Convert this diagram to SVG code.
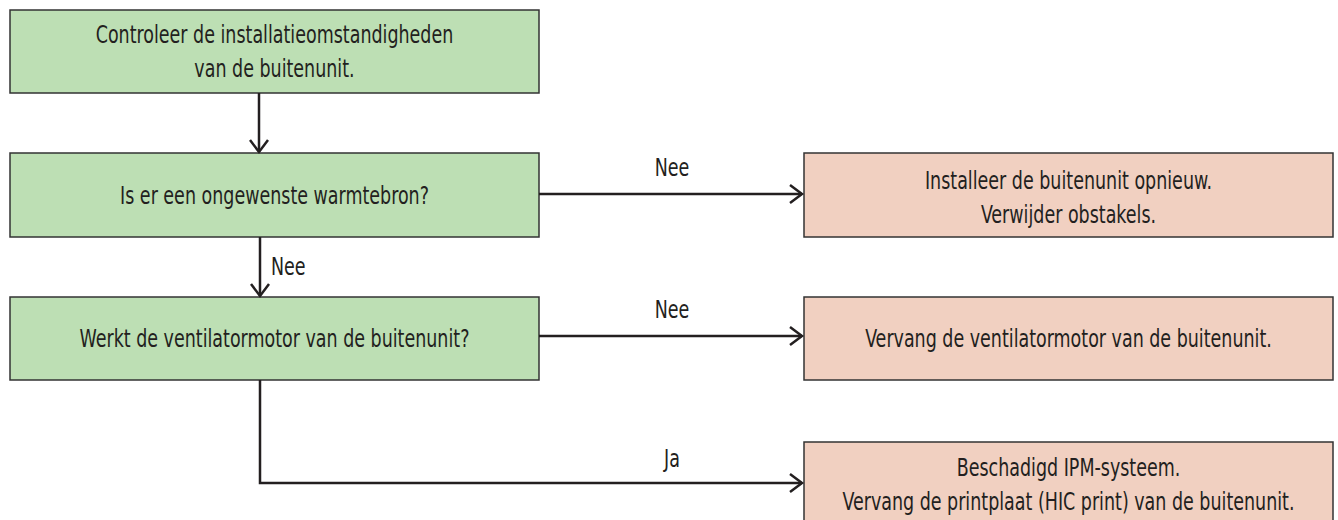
<svg xmlns="http://www.w3.org/2000/svg" width="1338" height="520" viewBox="0 0 1338 520">
<style>
.bg{fill:#ffffff}
.g{fill:#bddfb4;stroke:#333333;stroke-width:1.5}
.r{fill:#f1d0c1;stroke:#333333;stroke-width:1.5}
.t{font-family:"DejaVu Sans Condensed","Liberation Sans",sans-serif;font-stretch:condensed;font-size:24px;fill:#231f20;text-anchor:middle}
.l{font-family:"DejaVu Sans Condensed","Liberation Sans",sans-serif;font-stretch:condensed;font-size:24px;fill:#231f20}
.c{fill:none;stroke:#231f20;stroke-width:2.5}
</style>
<defs>
<marker id="ah" markerUnits="userSpaceOnUse" markerWidth="20" markerHeight="24" refX="13" refY="10" orient="auto" viewBox="0 0 20 24">
<path d="M1,1 L13,10 L1,19" fill="none" stroke="#231f20" stroke-width="2.5"/>
</marker>
</defs>
<rect class="bg" x="0" y="0" width="1338" height="520"/>
<g id="n1">
<rect class="g" x="10" y="10" width="529" height="83"/>
<text class="t" transform="translate(274.5,43) scale(0.81,1)">Controleer de installatieomstandigheden</text>
<text class="t" transform="translate(274.5,77) scale(0.81,1)">van de buitenunit.</text>
</g>
<g id="n2">
<rect class="g" x="10" y="153" width="529" height="84"/>
<text class="t" transform="translate(274.5,204) scale(0.81,1)">Is er een ongewenste warmtebron?</text>
</g>
<g id="n3">
<rect class="g" x="10" y="297" width="529" height="83"/>
<text class="t" transform="translate(274.5,347) scale(0.81,1)">Werkt de ventilatormotor van de buitenunit?</text>
</g>
<g id="r1">
<rect class="r" x="804" y="153" width="529" height="84"/>
<text class="t" transform="translate(1068.5,189) scale(0.81,1)">Installeer de buitenunit opnieuw.</text>
<text class="t" transform="translate(1068.5,223) scale(0.81,1)">Verwijder obstakels.</text>
</g>
<g id="r2">
<rect class="r" x="804" y="297" width="529" height="83"/>
<text class="t" transform="translate(1068.5,347) scale(0.81,1)">Vervang de ventilatormotor van de buitenunit.</text>
</g>
<g id="r3">
<rect class="r" x="804" y="442" width="529" height="90"/>
<text class="t" transform="translate(1068.5,476) scale(0.81,1)">Beschadigd IPM-systeem.</text>
<text class="t" transform="translate(1068.5,510) scale(0.81,1)">Vervang de printplaat (HIC print) van de buitenunit.</text>
</g>
<g id="connectors">
<path class="c" d="M259,93 L259,152" marker-end="url(#ah)"/>
<path class="c" d="M260,237 L260,296" marker-end="url(#ah)"/>
<path class="c" d="M539,194 L802,194" marker-end="url(#ah)"/>
<path class="c" d="M539,336 L802,336" marker-end="url(#ah)"/>
<path class="c" d="M260,380 L260,483 L802,483" marker-end="url(#ah)"/>
<text class="l" transform="translate(271,275) scale(0.81,1)">Nee</text>
<text class="t" transform="translate(672,176) scale(0.81,1)">Nee</text>
<text class="t" transform="translate(672,318) scale(0.81,1)">Nee</text>
<text class="t" transform="translate(672,467) scale(0.81,1)">Ja</text>
</g>
</svg>
